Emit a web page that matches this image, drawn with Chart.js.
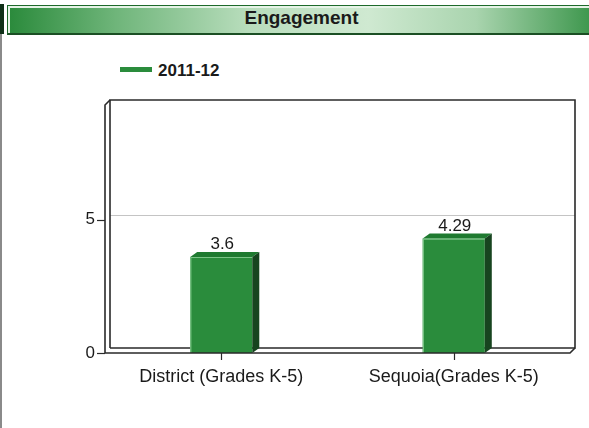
<!DOCTYPE html>
<html>
<head>
<meta charset="utf-8">
<script src="https://cdn.jsdelivr.net/npm/chart.js@4/dist/chart.umd.min.js"></script>
<style>
  html, body { margin:0; padding:0; background:#fff; }
  #wrap { position:relative; width:589px; height:428px; overflow:hidden; font-family:"Liberation Sans", Arial, sans-serif; }
  #leftblk { position:absolute; left:0; top:4px; width:4px; height:30px; background:#103018; }
  #leftline { position:absolute; left:0; top:34px; width:2px; height:394px; background:#8a8a8a; }
  #header { position:absolute; left:7px; top:5px; width:600px; height:27px;
    border:1px solid #1e6a2b; border-bottom:2px solid #1b4f24;
    background:linear-gradient(to right, #2a8a3b 0%, #6fb57a 18%, #b8ddbc 40%, #cfe9d1 60%, #a9d4ae 78%, #2e8e3f 100%);
    box-shadow: inset 2px 2px 0 #e6f4e7; }
  #title { position:absolute; left:7px; top:7px; width:589px; text-align:center; font-weight:bold; font-size:19px; color:#1a1a1a; }
  #legsw { position:absolute; left:120px; top:67px; width:32px; height:5px; background:#2a8c3c; }
  #legtx { position:absolute; left:158px; top:61px; font-weight:bold; font-size:17px; color:#1a1a1a; }
  canvas { position:absolute; left:0; top:0; }
</style>
</head>
<body>
<div id="wrap">
  <div id="leftblk"></div>
  <div id="leftline"></div>
  <div id="header"></div>
  <div id="title">Engagement</div>
  <div id="legsw"></div>
  <div id="legtx">2011-12</div>
  <canvas id="c" width="589" height="428"></canvas>
</div>
<script>
const categories = ["District (Grades K-5)", "Sequoia(Grades K-5)"];
const seriesName = "2011-12";
const values2011 = [3.6, 4.29];
const yTicks = [0, 5];
const yMax = 9.33;

const DX = 5, DY = 5;      // box depth
const BDX = 7, BDY = 5;    // bar depth
const FONT = '"Liberation Sans", Arial, sans-serif';

const box3d = {
  id: 'box3d',
  beforeDatasetsDraw(chart) {
    const ctx = chart.ctx, a = chart.chartArea, y = chart.scales.y, x = chart.scales.x;
    ctx.save();
    ctx.strokeStyle = '#c4c4c4'; ctx.lineWidth = 1;
    yTicks.forEach(v => {
      if (v === 0) return;
      const py = Math.round(y.getPixelForValue(v)) - DY + 0.5;
      ctx.beginPath(); ctx.moveTo(a.left + DX, py); ctx.lineTo(a.right + DX, py); ctx.stroke();
    });
    ctx.strokeStyle = '#2a2a2a'; ctx.lineWidth = 1.6;
    ctx.beginPath();
    ctx.moveTo(a.left + DX, a.bottom - DY);
    ctx.lineTo(a.left + DX, a.top - DY + 1);
    ctx.lineTo(a.right + DX, a.top - DY + 1);
    ctx.lineTo(a.right + DX, a.bottom - DY);
    ctx.lineTo(a.left + DX, a.bottom - DY);
    ctx.stroke();
    ctx.beginPath();
    ctx.moveTo(a.left, a.bottom);
    ctx.lineTo(a.left, a.top + 1);
    ctx.lineTo(a.left + DX, a.top - DY + 1);
    ctx.stroke();
    ctx.lineWidth = 1.2;
    yTicks.forEach(v => {
      const py = Math.round(y.getPixelForValue(v)) + 0.5;
      ctx.beginPath(); ctx.moveTo(a.left - 8, py); ctx.lineTo(a.left, py); ctx.stroke();
    });
    categories.forEach((c, i) => {
      const px = Math.round(x.getPixelForValue(i)) + 0.5;
      ctx.beginPath(); ctx.moveTo(px, a.bottom); ctx.lineTo(px, a.bottom + 7); ctx.stroke();
    });
    ctx.restore();
  },
  afterDatasetsDraw(chart) {
    const ctx = chart.ctx, a = chart.chartArea;
    const meta = chart.getDatasetMeta(0);
    ctx.save();
    meta.data.forEach((bar, i) => {
      const l = bar.x - bar.width / 2, r = bar.x + bar.width / 2, t = bar.y, b = bar.base;
      ctx.fillStyle = '#1f7a30';
      ctx.beginPath();
      ctx.moveTo(l, t); ctx.lineTo(l + BDX, t - BDY); ctx.lineTo(r + BDX, t - BDY); ctx.lineTo(r, t); ctx.closePath(); ctx.fill();
      ctx.fillStyle = '#17441f';
      ctx.beginPath();
      ctx.moveTo(r, t); ctx.lineTo(r + BDX, t - BDY); ctx.lineTo(r + BDX, b - BDY); ctx.lineTo(r, b); ctx.closePath(); ctx.fill();
      ctx.strokeStyle = '#7cc487'; ctx.lineWidth = 1.2;
      ctx.beginPath(); ctx.moveTo(l + 0.6, b); ctx.lineTo(l + 0.6, t + 0.6); ctx.lineTo(r, t + 0.6); ctx.stroke();
      ctx.fillStyle = '#1a1a1a';
      ctx.font = '17px ' + FONT;
      ctx.textAlign = 'center'; ctx.textBaseline = 'alphabetic';
      ctx.fillText(String(values2011[i]), bar.x + 1, t - BDY - 3);
    });
    ctx.strokeStyle = '#2a2a2a'; ctx.lineWidth = 1.6;
    ctx.beginPath();
    ctx.moveTo(a.left, a.bottom); ctx.lineTo(a.right, a.bottom); ctx.lineTo(a.right + DX, a.bottom - DY);
    ctx.stroke();
    ctx.restore();
  }
};

new Chart(document.getElementById('c'), {
  type: 'bar',
  data: {
    labels: categories,
    datasets: [{
      label: seriesName,
      data: values2011,
      backgroundColor: '#2a8c3c',
      borderWidth: 0,
      categoryPercentage: 1,
      barPercentage: 0.267
    }]
  },
  options: {
    responsive: false,
    animation: false,
    devicePixelRatio: 1,
    layout: { padding: { top: 104, right: 19, left: 0, bottom: 0 } },
    plugins: { legend: { display: false }, tooltip: { enabled: false } },
    scales: {
      x: {
        grid: { display: false, drawTicks: false },
        border: { display: false },
        ticks: { color: '#1a1a1a', font: { size: 18, family: FONT }, padding: 13, maxRotation: 0, autoSkip: false },
        afterFit(s) { s.height = 75; }
      },
      y: {
        min: 0, max: yMax,
        grid: { display: false, drawTicks: false },
        border: { display: false },
        ticks: { color: '#1a1a1a', font: { size: 17, family: FONT }, padding: 10, stepSize: 5 },
        afterBuildTicks(s) { s.ticks = yTicks.map(v => ({ value: v })); },
        afterFit(s) { s.width = 105; }
      }
    }
  },
  plugins: [box3d]
});
</script>
</body>
</html>
